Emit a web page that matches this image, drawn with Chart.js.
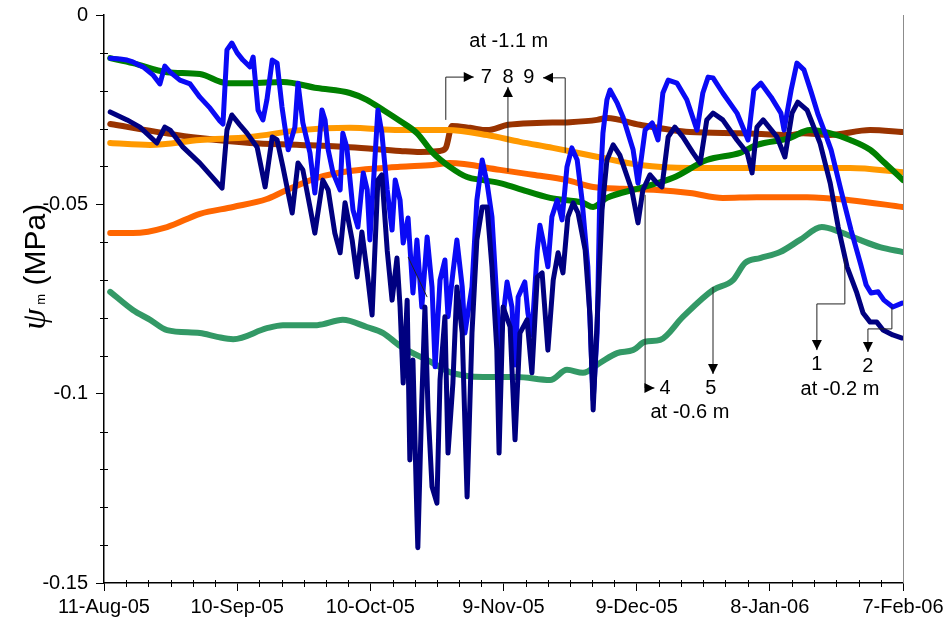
<!DOCTYPE html>
<html>
<head>
<meta charset="utf-8">
<script src="https://cdn.jsdelivr.net/npm/chart.js@4.4.1/dist/chart.umd.min.js"></script>
<style>
  html, body { margin: 0; padding: 0; background: #fff; }
  #wrap { width: 945px; height: 630px; position: relative; }
</style>
</head>
<body>
<div id="wrap"><canvas id="c" width="945" height="630"></canvas></div>
<script>
// Matric potential (MPa) logged from 11-Aug-05; x values are days since 11-Aug-05.
const xTickLabels = ['11-Aug-05', '10-Sep-05', '10-Oct-05', '9-Nov-05', '9-Dec-05', '8-Jan-06', '7-Feb-06'];
const yTickLabels = ['0', '-0.05', '-0.1', '-0.15'];

// sensor 1, -0.2 m
const s1Days = [1.4,5.2,8.1,11.9,13.7,14.9,17.8,21.6,26.6,27.7,
  28.8,30.6,32.2,34.5,36.3,37.9,39.0,40.3,42.4,43.7,
  44.8,46.4,47.5,49.3,50.5,52.0,53.2,54.3,55.9,57.0,
  58.1,59.3,60.4,61.7,62.6,63.8,64.9,66.0,66.7,67.4,
  68.3,68.9,69.6,70.5,70.7,71.6,72.3,73.0,73.9,75.0,
  75.7,76.8,77.5,78.6,79.5,80.7,81.8,82.9,84.0,85.2,
  86.3,87.4,88.5,89.0,89.9,91.5,92.6,93.7,95.3,96.4,
  97.6,98.7,100.0,101.2,102.3,103.4,104.5,105.7,106.8,108.4,
  109.5,110.2,111.3,112.2,113.3,114.7,116.2,118.9,120.3,121.4,
  123.0,124.6,125.7,127.1,128.6,130.4,132.7,134.3,135.8,137.2,
  139.4,142.6,144.9,146.0,147.1,148.5,151.6,153.4,155.0,156.3,
  158.4,161.3,163.6,165.4,167.4,169.6,171.0,172.6,174.1,175.5,
  177.7,179.8];
const s1Psi = [-0.0256,-0.0277,-0.0296,-0.0338,-0.0296,-0.0304,-0.0349,-0.0391,-0.0457,-0.0304,
  -0.0264,-0.0290,-0.0312,-0.0349,-0.0454,-0.0322,-0.0330,-0.0401,-0.0523,-0.0391,
  -0.0409,-0.0507,-0.0576,-0.0436,-0.0462,-0.0576,-0.0628,-0.0496,-0.0594,-0.0692,
  -0.0573,-0.0681,-0.0792,-0.0436,-0.0422,-0.0621,-0.0753,-0.0642,-0.0771,-0.0972,
  -0.0753,-0.1175,-0.0911,-0.1326,-0.1407,-0.1017,-0.0771,-0.1043,-0.1246,-0.1289,
  -0.0964,-0.0797,-0.1157,-0.0972,-0.0718,-0.0840,-0.1273,-0.0840,-0.0594,-0.0507,
  -0.0507,-0.0665,-0.0885,-0.1157,-0.0771,-0.0824,-0.1122,-0.0840,-0.0805,-0.0945,
  -0.0692,-0.0681,-0.0885,-0.0700,-0.0628,-0.0681,-0.0533,-0.0496,-0.0523,-0.0621,
  -0.0797,-0.1043,-0.0753,-0.0515,-0.0383,-0.0343,-0.0370,-0.0462,-0.0549,-0.0462,
  -0.0422,-0.0444,-0.0454,-0.0322,-0.0296,-0.0322,-0.0364,-0.0391,-0.0277,-0.0259,
  -0.0277,-0.0330,-0.0364,-0.0417,-0.0296,-0.0277,-0.0322,-0.0375,-0.0259,-0.0230,
  -0.0251,-0.0338,-0.0444,-0.0560,-0.0665,-0.0734,-0.0787,-0.0811,-0.0811,-0.0832,
  -0.0845,-0.0853];

// sensor 2, -0.2 m
const s2Days = [1.4,3.6,5.2,6.5,8.8,11.0,12.6,13.7,14.9,17.1,
  19.4,21.6,23.9,26.1,26.8,27.7,28.8,30.0,31.3,32.9,
  33.6,34.7,35.8,36.7,37.9,39.0,40.1,41.5,43.0,43.7,
  44.8,46.4,47.5,49.1,49.8,50.5,51.6,53.2,53.8,54.7,
  56.1,57.2,58.4,59.3,59.9,60.6,61.7,62.6,63.8,64.9,
  65.6,66.7,67.4,68.5,69.6,70.5,71.6,72.8,73.9,74.6,
  75.7,76.8,77.5,78.6,79.5,80.7,81.3,82.9,84.0,85.2,
  86.3,87.4,88.5,89.2,89.9,90.8,91.9,92.6,93.3,94.8,
  95.5,96.4,97.6,98.2,98.9,100.0,100.9,102.1,103.2,104.3,
  105.4,106.6,107.7,109.0,110.2,111.1,111.7,112.4,113.3,114.0,
  115.6,116.9,119.2,120.3,121.9,123.5,124.8,125.9,127.1,129.1,
  131.3,133.6,134.9,136.1,137.2,139.4,142.6,145.1,146.4,148.0,
  150.3,152.5,153.2,154.8,156.1,157.7,159.3,160.9,162.2,163.8,
  166.0,168.3,170.5,171.7,172.8,174.4,175.7,177.7,179.8];
const s2Psi = [-0.0114,-0.0116,-0.0119,-0.0124,-0.0137,-0.0158,-0.0182,-0.0135,-0.0151,-0.0172,
  -0.0182,-0.0217,-0.0246,-0.0280,-0.0288,-0.0092,-0.0074,-0.0100,-0.0119,-0.0137,
  -0.0111,-0.0251,-0.0277,-0.0224,-0.0119,-0.0127,-0.0243,-0.0356,-0.0296,-0.0180,
  -0.0285,-0.0364,-0.0470,-0.0251,-0.0277,-0.0356,-0.0417,-0.0462,-0.0312,-0.0349,
  -0.0515,-0.0560,-0.0417,-0.0462,-0.0594,-0.0462,-0.0251,-0.0312,-0.0462,-0.0568,
  -0.0436,-0.0489,-0.0602,-0.0536,-0.0734,-0.0594,-0.0771,-0.0586,-0.0718,-0.0929,
  -0.0700,-0.0647,-0.0797,-0.0681,-0.0594,-0.0718,-0.0840,-0.0718,-0.0489,-0.0383,
  -0.0444,-0.0533,-0.0753,-0.0885,-0.0797,-0.0705,-0.0771,-0.0924,-0.0745,-0.0705,
  -0.0787,-0.0845,-0.0621,-0.0555,-0.0594,-0.0665,-0.0533,-0.0489,-0.0541,-0.0401,
  -0.0351,-0.0383,-0.0489,-0.0665,-0.1017,-0.0840,-0.0470,-0.0312,-0.0224,-0.0198,
  -0.0232,-0.0269,-0.0356,-0.0444,-0.0304,-0.0285,-0.0330,-0.0206,-0.0172,-0.0180,
  -0.0224,-0.0304,-0.0206,-0.0164,-0.0166,-0.0206,-0.0259,-0.0330,-0.0198,-0.0180,
  -0.0217,-0.0259,-0.0304,-0.0198,-0.0127,-0.0145,-0.0203,-0.0264,-0.0304,-0.0356,
  -0.0462,-0.0568,-0.0660,-0.0713,-0.0734,-0.0731,-0.0753,-0.0771,-0.0761];

// sensor 4, -0.6 m
const s4Days = [1.4,6.5,14.2,21.6,27.7,32.9,40.3,48.0,55.4,59.2,62.9,66.7,70.5,74.1,77.9,81.8,85.4,89.2,93.0,
  100.5,107.9,110.2,113.3,120.7,128.2,135.8,143.3,147.1,154.5,159.0,163.5,168.1,172.6,175.9,180.0];
const s4Psi = [-0.0114,-0.0127,-0.0151,-0.0156,-0.0180,-0.0180,-0.0177,-0.0193,-0.0206,-0.0224,-0.0251,-0.0280,-0.0312,-0.0364,-0.0401,-0.0428,-0.0436,-0.0444,-0.0457,
  -0.0483,-0.0496,-0.0507,-0.0483,-0.0457,-0.0430,-0.0383,-0.0364,-0.0343,-0.0325,-0.0304,-0.0312,-0.0330,-0.0356,-0.0391,-0.0436];

// sensor 5, -0.6 m
const s5Days = [1.4,6.5,10.4,14.2,21.6,25.5,29.1,36.7,40.3,48.0,53.8,59.2,62.9,66.7,74.1,77.9,85.4,93.0,100.5,104.3,
  107.9,111.7,115.6,119.2,121.9,125.3,130.4,137.2,141.7,144.4,147.8,152.3,156.8,161.7,165.8,170.3,174.8,180.0];
const s5Psi = [-0.0731,-0.0779,-0.0805,-0.0832,-0.0840,-0.0850,-0.0856,-0.0827,-0.0819,-0.0819,-0.0805,-0.0824,-0.0840,-0.0874,-0.0919,-0.0943,-0.0956,-0.0956,-0.0964,-0.0937,
  -0.0945,-0.0919,-0.0893,-0.0885,-0.0863,-0.0858,-0.0797,-0.0726,-0.0700,-0.0655,-0.0642,-0.0626,-0.0594,-0.0560,-0.0573,-0.0594,-0.0613,-0.0626];

// sensor 7, -1.1 m
const s7Days = [1.4,13.7,21.6,32.9,44.2,55.4,66.7,71.2,75.7,77.0,78.4,82.5,86.3,91.0,97.5,105.0,111.1,113.3,120.7,132.0,143.3,154.5,157.5,163.5,172.6,180.0];
const s7Psi = [-0.0288,-0.0312,-0.0325,-0.0338,-0.0343,-0.0349,-0.0359,-0.0362,-0.0359,-0.0351,-0.0293,-0.0298,-0.0304,-0.0290,-0.0285,-0.0283,-0.0277,-0.0272,-0.0290,-0.0309,-0.0312,-0.0317,-0.0312,-0.0317,-0.0304,-0.0309];

// sensor 8, -1.1 m
const s8Days = [1.4,6.5,14.2,21.6,29.1,36.7,40.3,48.0,55.4,66.7,74.1,77.9,89.2,96.6,104.3,110.2,116.9,124.6,132.0,139.4,147.1,158.4,168.1,180.0];
const s8Psi = [-0.0576,-0.0576,-0.0560,-0.0525,-0.0507,-0.0486,-0.0467,-0.0430,-0.0412,-0.0401,-0.0396,-0.0391,-0.0409,-0.0422,-0.0436,-0.0454,-0.0459,-0.0462,-0.0470,-0.0483,-0.0481,-0.0481,-0.0489,-0.0507];

// sensor 9, -1.1 m
const s9Days = [1.4,10.4,21.6,32.9,44.2,55.4,66.7,77.3,86.3,93.7,101.1,111.3,120.7,132.0,143.3,154.5,168.1,180.0];
const s9Psi = [-0.0338,-0.0343,-0.0330,-0.0322,-0.0304,-0.0298,-0.0304,-0.0304,-0.0317,-0.0335,-0.0351,-0.0375,-0.0396,-0.0404,-0.0404,-0.0404,-0.0404,-0.0415];

// Depth labels and leader arrows, in (day, MPa)
const noteTexts = [
  ['at -1.1 m', 91.2, -0.0071],
  ['7', 86.1, -0.0164], ['8', 91.0, -0.0164], ['9', 95.7, -0.0164],
  ['4', 126.4, -0.0985], ['5', 136.7, -0.0985], ['at -0.6 m', 132.0, -0.1051],
  ['1', 160.6, -0.0924], ['2', 172.1, -0.0929], ['at -0.2 m', 165.8, -0.0990]
];
const noteArrows = [
  [[77.0, -0.0277], [77.0, -0.0164], [83.3, -0.0164]],
  [[91.0, -0.0415], [91.0, -0.0190]],
  [[103.9, -0.0364], [103.9, -0.0166], [98.9, -0.0166]],
  [[121.9, -0.0475], [121.9, -0.0985], [124.0, -0.0985]],
  [[137.2, -0.0718], [137.2, -0.0948]],
  [[166.9, -0.0642], [166.9, -0.0763], [160.6, -0.0763], [160.6, -0.0885]],
  [[177.5, -0.0771], [177.5, -0.0829], [172.1, -0.0829], [172.1, -0.0890]]
];
const noteLines = [
  [[68.5, -0.0639], [72.8, -0.0745]]
];

const FONT = '"Liberation Sans", Arial, Helvetica, sans-serif';

function pts(days, vals) {
  return days.map((d, i) => ({ x: d, y: vals[i] }));
}

function series(label, days, vals, color, width, smooth) {
  return {
    label, data: pts(days, vals), borderColor: color, backgroundColor: color,
    borderWidth: width, pointRadius: 0, fill: false,
    tension: smooth ? 0.4 : 0,
    cubicInterpolationMode: smooth ? 'monotone' : 'default',
    borderJoinStyle: 'round', borderCapStyle: 'round'
  };
}

// minor tick marks crossing the axes, plus the grey right frame edge
const minorTicks = {
  id: 'minorTicks',
  afterDraw(chart) {
    const { ctx, chartArea: a, scales: { x, y } } = chart;
    ctx.save();
    ctx.strokeStyle = '#000';
    ctx.lineWidth = 1;
    ctx.beginPath();
    for (let d = 5; d < 180; d += 5) {
      if (d % 30 === 0) continue;
      const px = Math.round(x.getPixelForValue(d)) + 0.5;
      ctx.moveTo(px, a.bottom - 3);
      ctx.lineTo(px, a.bottom + 4);
    }
    for (let k = 1; k < 15; k++) {
      if (k % 5 === 0) continue;
      const py = Math.round(y.getPixelForValue(-k * 0.01)) + 0.5;
      ctx.moveTo(a.left - 4, py);
      ctx.lineTo(a.left + 4, py);
    }
    ctx.stroke();
    ctx.strokeStyle = '#8c8c8c';
    ctx.beginPath();
    ctx.moveTo(Math.round(a.right) + 0.5, a.top);
    ctx.lineTo(Math.round(a.right) + 0.5, a.bottom);
    ctx.stroke();
    ctx.restore();
  }
};

// leader arrows and depth labels
const notes = {
  id: 'notes',
  afterDatasetsDraw(chart) {
    const { ctx, scales: { x, y } } = chart;
    const P = p => [x.getPixelForValue(p[0]), y.getPixelForValue(p[1])];
    ctx.save();
    ctx.strokeStyle = '#222';
    ctx.fillStyle = '#000';
    ctx.lineWidth = 1;
    noteLines.forEach(path => {
      ctx.beginPath();
      path.map(P).forEach((q, i) => i ? ctx.lineTo(q[0], q[1]) : ctx.moveTo(q[0], q[1]));
      ctx.stroke();
    });
    noteArrows.forEach(path => {
      const q = path.map(P);
      ctx.beginPath();
      q.forEach((p, i) => i ? ctx.lineTo(p[0], p[1]) : ctx.moveTo(p[0], p[1]));
      ctx.stroke();
      const [x1, y1] = q[q.length - 2];
      const [x2, y2] = q[q.length - 1];
      const ang = Math.atan2(y2 - y1, x2 - x1);
      const L = 10, W = 5;
      ctx.beginPath();
      ctx.moveTo(x2, y2);
      ctx.lineTo(x2 - L * Math.cos(ang) + W * Math.sin(ang), y2 - L * Math.sin(ang) - W * Math.cos(ang));
      ctx.lineTo(x2 - L * Math.cos(ang) - W * Math.sin(ang), y2 - L * Math.sin(ang) + W * Math.cos(ang));
      ctx.closePath();
      ctx.fill();
    });
    ctx.font = '20px ' + FONT;
    ctx.textAlign = 'center';
    ctx.textBaseline = 'middle';
    noteTexts.forEach(([t, d, v]) => {
      const [px, py] = P([d, v]);
      ctx.fillText(t, px, py);
    });
    ctx.restore();
  }
};

// y axis title with italic psi and subscript m
const yTitle = {
  id: 'yTitle',
  afterDraw(chart) {
    const { ctx, scales: { y } } = chart;
    const cy = y.getPixelForValue(-0.0665);
    const cx = 34;
    const psiFont = 'italic 34px "Liberation Serif", "DejaVu Serif", serif';
    const subFont = '13px ' + FONT;
    const mainFont = '30px ' + FONT;
    ctx.save();
    ctx.font = psiFont; const w1 = ctx.measureText('\u03C8').width;
    ctx.font = subFont; const w2 = ctx.measureText('m').width;
    ctx.font = mainFont; const w3 = ctx.measureText(' (MPa)').width;
    const total = w1 + 4 + w2 + w3;
    ctx.translate(cx, cy);
    ctx.rotate(-Math.PI / 2);
    ctx.fillStyle = '#000';
    ctx.textBaseline = 'alphabetic';
    ctx.textAlign = 'left';
    let xx = -total / 2;
    const base = 11;
    ctx.font = psiFont; ctx.fillText('\u03C8', xx, base); xx += w1 + 4;
    ctx.font = subFont; ctx.fillText('m', xx, base); xx += w2;
    ctx.font = mainFont; ctx.fillText(' (MPa)', xx, base);
    ctx.restore();
  }
};

new Chart(document.getElementById('c'), {
  type: 'line',
  data: {
    datasets: [
      series('1', s1Days, s1Psi, '#000080', 5, false),
      series('2', s2Days, s2Psi, '#0a0af5', 5, false),
      series('4', s4Days, s4Psi, '#008000', 6, true),
      series('8', s8Days, s8Psi, '#ff6600', 6, true),
      series('9', s9Days, s9Psi, '#ff9900', 6, true),
      series('7', s7Days, s7Psi, '#993300', 6, true),
      series('5', s5Days, s5Psi, '#339966', 6, true)
    ]
  },
  options: {
    responsive: false,
    animation: false,
    devicePixelRatio: 1,
    layout: { padding: { top: 15, right: 42, left: 0, bottom: 0 } },
    plugins: { legend: { display: false }, tooltip: { enabled: false } },
    scales: {
      x: {
        type: 'linear', min: 0, max: 180,
        afterFit: s => { s.height = 47; s.paddingLeft = 0; s.paddingRight = 0; },
        ticks: {
          stepSize: 30, autoSkip: false, maxRotation: 0, minRotation: 0,
          color: '#000', font: { family: FONT, size: 20 }, padding: 4,
          callback: v => xTickLabels[Math.round(v / 30)]
        },
        grid: { drawOnChartArea: false, drawTicks: true, tickLength: 8, color: '#000', lineWidth: 1 },
        border: { display: true, color: '#000', width: 1.5 }
      },
      y: {
        min: -0.15, max: 0,
        afterFit: s => { s.width = 104; s.paddingTop = 0; s.paddingBottom = 0; },
        ticks: {
          stepSize: 0.05, color: '#000', font: { family: FONT, size: 20 }, padding: 8,
          callback: v => yTickLabels[Math.round(-v / 0.05)]
        },
        grid: { drawOnChartArea: false, drawTicks: true, tickLength: 8, color: '#000', lineWidth: 1 },
        border: { display: true, color: '#000', width: 1.5 }
      }
    }
  },
  plugins: [minorTicks, notes, yTitle]
});
</script>
</body>
</html>
